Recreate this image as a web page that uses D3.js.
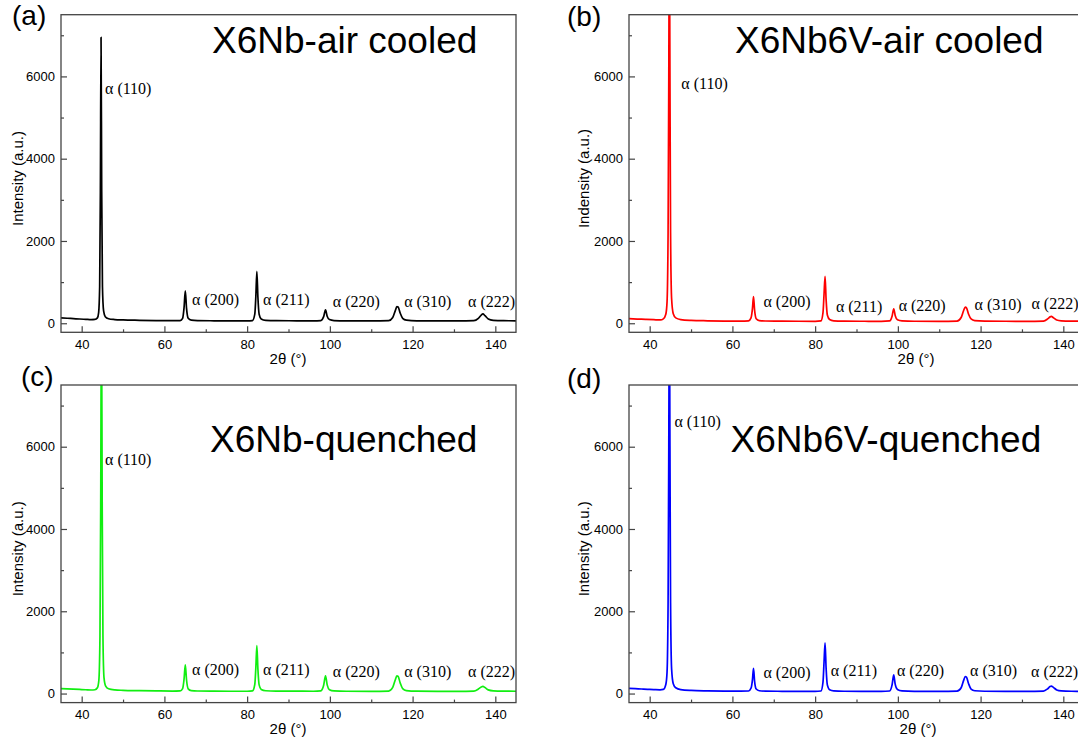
<!DOCTYPE html>
<html>
<head>
<meta charset="utf-8">
<script src="https://cdnjs.cloudflare.com/ajax/libs/d3/7.8.5/d3.min.js"></script>
<style>
body{margin:0;background:#fff;}
text{font-family:"Liberation Sans",Arial,sans-serif;fill:#000;}
.pk{font-family:"Liberation Serif","Times New Roman",serif;font-size:16px;}
</style>
</head>
<body>
<div id="fig"></div>
<script>
// tick values and peak names
var xTicks = [40,60,80,100,120,140];
var xMinor = [50,70,90,110,130];
var yTicks = [0,2000,4000,6000];
var yMinor = [1000,3000,5000,7000];
var hkl = ["(110)","(200)","(211)","(220)","(310)","(222)"];

// XRD patterns, [2theta, intensity]
var airNb = [[35,130],[36.5,122],[38,112],[39.5,103],[41,95],[42.3,88],[43.2,92],[43.8,130],[44.1,260],[44.35,900],[44.52,3200],[44.68,6950],[44.84,3200],[45.02,900],[45.3,300],[45.7,160],[46.5,110],[48,90],[50,80],[54,72],[58,66],[62,62],[63.8,66],[64.4,120],[64.75,380],[65.05,790],[65.35,360],[65.75,120],[66.5,75],[68,64],[72,60],[76,58],[80,58],[81.3,66],[81.85,220],[82.1,640],[82.35,1260],[82.6,640],[82.9,220],[83.4,105],[84.5,70],[87,62],[92,60],[96,58],[97.8,66],[98.5,160],[98.95,325],[99.35,170],[99.9,90],[101,66],[104,58],[110,56],[114.2,62],[115.2,140],[115.8,300],[116.2,405],[116.5,395],[117,250],[117.6,120],[118.5,75],[121,60],[126,57],[131,57],[134.8,62],[135.9,120],[136.6,200],[137,228],[137.5,185],[138.3,105],[139.5,72],[142,62],[145,60]];
var airNbV = [[35,110],[37,102],[39,94],[41,86],[42.6,80],[43.3,105],[43.9,220],[44.2,520],[44.45,2200],[44.62,6000],[44.75,9800],[44.9,6000],[45.05,2200],[45.3,600],[45.7,230],[46.3,130],[47.5,90],[50,70],[54,60],[58,54],[62,52],[63.9,58],[64.5,130],[64.85,360],[65.1,650],[65.35,330],[65.75,110],[66.5,65],[68,55],[72,50],[76,48],[80,48],[81.4,58],[81.9,260],[82.15,700],[82.4,1140],[82.65,580],[82.95,200],[83.5,90],[84.5,60],[87,52],[92,48],[96,46],[98,56],[98.6,170],[99.0,350],[99.35,190],[99.9,85],[101,58],[104,48],[110,46],[114.3,52],[115.3,140],[115.9,310],[116.3,392],[116.6,370],[117.1,220],[117.7,105],[118.6,65],[121,52],[126,48],[131,48],[135.2,54],[136.2,105],[136.8,155],[137.1,165],[137.6,135],[138.4,80],[139.5,60],[142,52],[145,50]];
var quenchNb = [[35,120],[36.5,115],[38,108],[39.5,100],[41,92],[42.3,86],[43.2,92],[43.8,140],[44.15,320],[44.42,1400],[44.6,4600],[44.78,9500],[44.96,4600],[45.14,1400],[45.4,380],[45.8,180],[46.5,115],[48,88],[50,78],[54,70],[58,64],[62,60],[63.8,64],[64.4,120],[64.75,350],[65.05,700],[65.35,330],[65.75,115],[66.5,72],[68,62],[72,58],[76,56],[80,56],[81.3,64],[81.85,220],[82.1,620],[82.35,1165],[82.6,600],[82.9,210],[83.4,100],[84.5,68],[87,60],[92,58],[96,56],[97.8,66],[98.5,200],[98.95,430],[99.35,210],[99.9,95],[101,64],[104,56],[110,54],[114.2,60],[115.2,150],[115.8,330],[116.2,430],[116.5,415],[117,260],[117.6,120],[118.5,72],[121,58],[126,55],[131,55],[134.8,60],[135.9,110],[136.6,160],[137,172],[137.5,145],[138.3,90],[139.5,66],[142,58],[145,56]];
var quenchNbV = [[35,125],[36.5,118],[38,110],[39.5,103],[41,96],[42.5,90],[43.3,100],[43.9,220],[44.2,520],[44.45,2200],[44.62,6000],[44.75,9800],[44.9,6000],[45.05,2200],[45.3,600],[45.7,240],[46.3,140],[47.5,95],[50,75],[54,65],[58,60],[62,58],[63.9,62],[64.5,130],[64.85,340],[65.1,610],[65.35,310],[65.75,110],[66.5,68],[68,58],[72,55],[76,53],[80,53],[81.4,62],[81.9,280],[82.15,760],[82.4,1230],[82.65,620],[82.95,210],[83.5,92],[84.5,64],[87,56],[92,53],[96,52],[98,62],[98.6,210],[99.0,455],[99.35,230],[99.9,100],[101,64],[104,54],[110,52],[114.3,58],[115.3,140],[115.9,320],[116.3,415],[116.6,395],[117.1,240],[117.7,110],[118.6,68],[121,56],[126,52],[131,52],[135.2,58],[136.2,115],[136.8,170],[137.1,180],[137.6,150],[138.4,88],[139.5,64],[142,56],[145,54]];

var W = 1078, H = 737;
var pw = 455, ph = 317.6;

var x = d3.scaleLinear().domain([35,145]).range([0,pw]);
var y = d3.scaleLinear().domain([-220,7500]).range([ph,0]);

// panel layout (label anchors are in data units)
var panels = [
  {tag:"(a)", tagx:12, tagy:25, left:61, top:14.7, data:airNb, color:"#000000",
   title:"X6Nb-air cooled", tx:151, ty:38.3, ylab:"Intensity (a.u.)", ylx:-38, xlx:227, xly:349.5,
   labs:[[45.64,5565],[66.69,444],[83.86,444],[100.7,402],[117.97,402],[133.4,402]]},
  {tag:"(b)", tagx:567, tagy:26, left:629, top:14.7, data:airNbV, color:"#ff0000",
   title:"X6Nb6V-air cooled", tx:106, ty:38, ylab:"Indensity (a.u.)", ylx:-40, xlx:287, xly:349.5,
   labs:[[47.65,5687],[67.51,395],[85.02,281],[100.19,305],[118.53,322],[132.3,346]]},
  {tag:"(c)", tagx:21, tagy:386, left:61, top:385, data:quenchNb, color:"#11ee11",
   title:"X6Nb-quenched", tx:149, ty:66.7, ylab:"Intensity (a.u.)", ylx:-38, xlx:227, xly:349,
   labs:[[45.64,5565],[66.69,444],[83.86,444],[100.7,402],[117.97,402],[133.4,402]]},
  {tag:"(d)", tagx:567, tagy:388, left:629, top:385, data:quenchNbV, color:"#0000ff",
   title:"X6Nb6V-quenched", tx:101.6, ty:66.7, ylab:"Intensity (a.u.)", ylx:-40, xlx:289, xly:349,
   labs:[[45.98,6486],[67.51,371],[83.77,427],[99.78,427],[117.44,427],[132.2,395]]}
];

var svg = d3.select("#fig").append("svg")
  .attr("width",W).attr("height",H);

var line = d3.line()
  .x(function(d){ return x(d[0]); })
  .y(function(d){ return y(d[1]); })
  .curve(d3.curveMonotoneX);

panels.forEach(function(p,i){
  svg.append("text").attr("x",p.tagx).attr("y",p.tagy)
    .style("font-size","28px").text(p.tag);

  var g = svg.append("g").attr("transform",`translate(${p.left},${p.top})`);

  g.append("clipPath").attr("id","clip"+i)
    .append("rect").attr("width",pw).attr("height",ph);

  // minor ticks
  g.append("g").attr("transform","translate(0,"+ph+")")
    .call(d3.axisBottom(x).tickValues(xMinor).tickSize(-3).tickFormat(""));
  g.append("g")
    .call(d3.axisLeft(y).tickValues(yMinor).tickSize(-3).tickFormat(""));
  // major ticks
  g.append("g").attr("transform","translate(0,"+ph+")")
    .call(d3.axisBottom(x).tickValues(xTicks).tickSize(-6).tickPadding(7));
  g.append("g")
    .call(d3.axisLeft(y).tickValues(yTicks).tickSize(-6).tickPadding(6).tickFormat(d3.format("d")));
  g.selectAll(".domain").remove();
  g.selectAll(".tick line").attr("stroke","#444").attr("stroke-width",1.2);
  g.selectAll(".tick text").style("font-size","13px")
    .style("font-family",'"Liberation Sans",Arial,sans-serif');

  g.append("path").datum(p.data)
    .attr("clip-path","url(#clip"+i+")")
    .attr("fill","none").attr("stroke",p.color)
    .attr("stroke-width",1.7).attr("stroke-linejoin","round")
    .attr("d",line);

  g.append("rect").attr("width",pw).attr("height",ph)
    .attr("fill","none").attr("stroke","#444").attr("stroke-width",1.3);

  g.append("text").attr("x",p.tx).attr("y",p.ty)
    .style("font-size","37px").text(p.title);

  g.selectAll(".pk").data(p.labs).enter().append("text")
    .attr("class","pk")
    .attr("x",function(d){ return x(d[0]); })
    .attr("y",function(d){ return y(d[1]); })
    .text(function(d,j){ return "\u03b1 " + hkl[j]; });

  g.append("text")
    .attr("transform","translate("+p.ylx+","+(ph/2+5)+") rotate(-90)")
    .attr("text-anchor","middle").style("font-size","15px")
    .text(p.ylab);

  g.append("text").attr("x",p.xlx).attr("y",p.xly)
    .attr("text-anchor","middle").style("font-size","15px")
    .text("2\u03b8 (\u00b0)");
});
</script>
</body>
</html>
